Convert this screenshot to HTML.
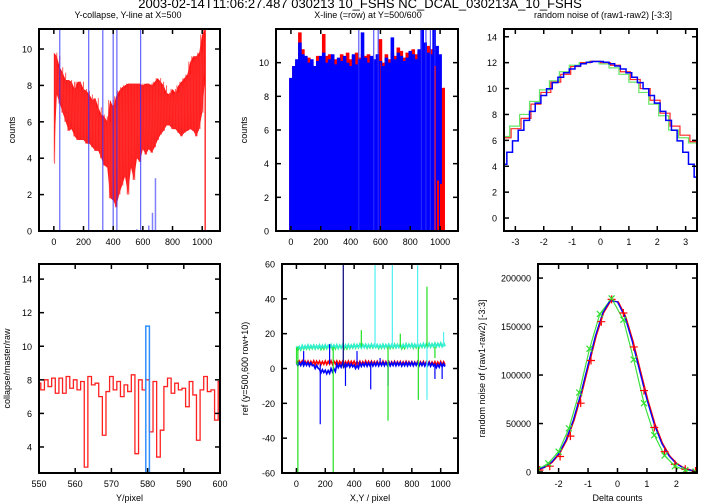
<!DOCTYPE html>
<html><head><meta charset="utf-8">
<style>
html,body{margin:0;padding:0;background:#fff;}
svg{display:block;font-family:"Liberation Sans",sans-serif;}
</style></head>
<body>
<svg id="fig" width="720" height="504" viewBox="0 0 720 504">
<text x="360" y="8" font-size="13" text-anchor="middle">2003-02-14T11:06:27.487 030213 10_FSHS NC_DCAL_030213A_10_FSHS</text>
<text x="128" y="18" font-size="9" text-anchor="middle">Y-collapse, Y-line at X=500</text>
<text x="368" y="18" font-size="9" text-anchor="middle">X-line (=row) at Y=500/600</text>
<text x="603" y="18" font-size="9" text-anchor="middle">random noise of (raw1-raw2) [-3:3]</text>
</svg>
<script>
// ---------- Panel 1 data ----------
const p1X = [0,20,40,60,80,100,120,140,160,180,200,220,240,260,280,300,320,340,360,380,400,420,440,460,480,500,520,540,560,580,600,620,640,660,680,700,720,740,760,780,800,820,840,860,880,900,920,940,960,980,1000,1020];
const p1Hi = [9.8,9.6,9.0,8.7,8.3,8.3,8.2,7.8,8.2,8.2,7.8,7.7,7.5,7.2,7.3,6.8,6.4,6.3,6.0,7.2,6.8,7.4,7.7,7.9,8.0,8.1,8.1,8.1,8.1,8.1,8.0,8.1,8.1,8.0,8.2,8.4,8.2,8.0,7.6,7.5,7.8,7.6,8.0,8.2,8.4,8.6,9.3,9.6,9.6,9.8,10.8,11.1];
const p1Lo = [3.7,7.5,7.0,6.5,6.0,5.5,5.6,5.2,5.0,5.0,5.0,4.8,4.8,4.6,4.4,4.4,4.0,3.6,3.5,1.8,1.7,1.3,2.0,2.5,3.0,2.0,3.5,2.8,4.0,3.8,4.5,4.2,4.5,4.3,4.6,5.0,5.3,5.5,5.8,5.8,5.6,5.6,5.4,5.2,5.4,5.5,5.6,5.5,5.2,5.6,6.5,8.5];
const p1BlueLineX = [40,235,330,400,425,585];
const p1BlueBarX = [560,640,665,685];
const p1BlueBarY = [0.1,0.3,1.0,2.9];
// ---------- Panel 2 data ----------
const p2X = [0,20,40,60,80,100,120,140,160,180,200,220,240,260,280,300,320,340,360,380,400,420,440,460,480,500,520,540,560,580,600,620,640,660,680,700,720,740,760,780,800,820,840,860,880,900,920,940,960,980,1000,1020];
const p2Blue = [9.1,9.8,10.2,11.2,10.5,10.4,10.0,10.2,9.8,10.1,10.4,10.6,10.0,10.2,10.5,9.9,10.3,10.1,10.4,10.0,9.8,10.5,9.9,10.2,11.8,10.3,10.0,10.4,10.2,10.5,10.1,9.8,10.3,10.0,11.5,10.2,10.6,10.4,10.1,10.3,10.7,10.5,10.2,10.8,12,11.2,10.6,10.5,12,11,10.5,9.6];
const p2Red = [9.0,9.8,10.0,11.8,10.8,10.2,10.3,10.0,9.5,10.4,10.2,11.7,10.4,10.5,10.3,10.2,10.1,10.5,10.0,10.6,10.2,10.4,10.6,10.3,10.5,10.4,10.5,10.3,10.1,10.2,11.4,10.0,10.5,10.2,10.6,10.4,10.9,10.7,10.3,10.6,10.4,10.8,10.5,10.6,10.7,10.9,11.0,10.8,9.8,3.0,2.8,8.5];
const p2SpikeX = [455,555,585,875,905,935,965];
// ---------- Panel 3 data ----------
const p3RedEdges = [-3.4,-3.15,-2.8,-2.45,-2.1,-1.75,-1.4,-1.05,-0.7,-0.35,0,0.35,0.7,1.05,1.4,1.75,2.1,2.45,2.8,3.15,3.4];
const p3Red = [6.2,6.9,7.7,8.8,9.7,10.5,11.1,11.7,12.0,12.1,12.0,11.8,11.3,10.7,10.0,9.1,8.1,7.1,6.4,5.9];
const p3GreenEdges = [-3.4,-3.2,-2.85,-2.5,-2.15,-1.8,-1.45,-1.1,-0.75,-0.4,-0.05,0.3,0.65,1.0,1.35,1.7,2.05,2.4,2.75,3.1,3.4];
const p3Green = [6.3,7.1,8.0,9.0,9.9,10.6,11.3,11.8,12.0,12.1,11.9,11.6,11.1,10.5,9.7,8.8,7.9,6.8,6.2,5.8];
const p3BlueX = [-3.4,-3.2,-3.0,-2.8,-2.6,-2.4,-2.2,-2.0,-1.8,-1.6,-1.4,-1.2,-1.0,-0.8,-0.6,-0.4,-0.2,0,0.2,0.4,0.6,0.8,1.0,1.2,1.4,1.6,1.8,2.0,2.2,2.4,2.6,2.8,3.0,3.2,3.4];
const p3Blue = [4.15,5.08,5.96,6.78,7.54,8.24,8.88,9.46,9.99,10.46,10.87,11.22,11.51,11.74,11.92,12.03,12.09,12.09,12.03,11.92,11.74,11.51,11.22,10.87,10.46,9.99,9.46,8.88,8.24,7.54,6.78,5.96,5.08,4.15,3.16];
// ---------- Panel 4 data ----------
const p4X = [550,551,552,553,554,555,556,557,558,559,560,561,562,563,564,565,566,567,568,569,570,571,572,573,574,575,576,577,578,579,580,581,582,583,584,585,586,587,588,589,590,591,592,593,594,595,596,597,598,599,600];
const p4Red = [7.8,7.4,8.0,7.6,8.1,7.2,8.1,7.2,8.2,7.5,8.0,7.4,7.9,2.8,8.2,7.7,7.8,7.0,4.7,7.3,8.2,7.4,7.9,7.0,7.7,7.3,8.3,3.6,8.0,7.4,8.0,4.9,7.9,3.4,5.0,7.6,8.1,7.2,7.8,7.4,7.5,6.4,7.9,7.1,4.4,7.4,8.2,7.3,7.4,5.6,7.9];
const p4BlueX = [580];
const p4Blue = [11.2];
// ---------- Panel 5 data ----------
const p5X = [0,40,80,120,160,200,240,280,320,360,400,440,480,520,560,600,640,680,720,760,800,840,880,920,960,1000,1020];
const p5Red = [3.5,3.4,3.3,3.4,3.2,3.3,3.4,3.3,3.2,3.3,3.2,3.1,3.3,3.2,3.1,3.2,3.0,3.1,3.0,3.1,2.9,3.0,3.0,2.9,2.9,3.0,3.0];
const p5Blue = [2.5,2.6,2.4,1.0,-1.5,-2.0,-1.0,1.5,2.0,1.8,1.0,2.2,2.3,2.4,2.5,2.6,2.5,2.6,2.4,2.5,2.6,2.5,2.4,2.3,1.5,2.0,1.0];
const p5Green = [11.5,12.0,12.2,12.3,12.0,12.4,12.1,12.5,12.2,12.6,12.8,13.0,12.7,12.9,12.5,12.8,12.6,13.0,12.4,13.1,12.8,13.0,13.2,13.3,13.5,13.6,14.0];
const p5Cyan = [11.8,12.3,12.5,12.4,12.6,12.5,12.7,12.6,12.8,12.7,12.9,12.8,12.9,13.0,12.8,12.9,13.0,12.9,13.1,13.0,13.2,13.1,13.3,13.4,13.5,13.6,13.8];
const p5BlueSpikeX = [50,165,230,325,340,420,515,580,635,960,1010];
const p5BlueSpikeY = [10,-32,14,60,-10,10,-12,6,-10,-6,-6];
const p5GreenSpikeX = [10,255,450,635,720,845,905,960];
const p5GreenSpikeY = [-60,-60,22,-30,20,-18,47,6];
const p5CyanSpikeX = [545,665,840,905,1020];
const p5CyanSpikeY = [60,60,60,-18,21];
// ---------- Panel 6 data ----------
const p6CurveX = [-2.75,-2.5,-2.25,-2.0,-1.75,-1.5,-1.25,-1.0,-0.75,-0.5,-0.25,0,0.25,0.5,0.75,1.0,1.25,1.5,1.75,2.0,2.25,2.5,2.75];
const p6Blue = [2080,4720,9800,18700,33000,53600,80300,110700,140400,164200,176800,175400,160200,134800,104500,74600,49000,29700,16500,8500,4000,1750,710];
const p6RedX = [-2.65,-2.3,-1.95,-1.6,-1.25,-0.9,-0.55,-0.2,0.2,0.55,0.9,1.25,1.6,1.95,2.3,2.65];
const p6Red = [2000,6000,16000,37000,71000,115000,155000,178000,164000,129000,84000,46000,21000,8000,3000,1000];
const p6GreenX = [-2.7,-2.35,-2.0,-1.65,-1.3,-0.95,-0.6,-0.2,0.2,0.55,0.9,1.25,1.6,1.95,2.3,2.65];
const p6Green = [2500,9000,21000,45000,82000,127000,163000,179000,157000,116000,71000,38000,17000,6000,2000,500];

const NS = "http://www.w3.org/2000/svg";
const svg = document.getElementById('fig');
function mk(tag, attrs, parent) {
  const e = document.createElementNS(NS, tag);
  for (const k in attrs) e.setAttribute(k, attrs[k]);
  (parent || svg).appendChild(e);
  return e;
}
function panel(name, box, xd, yd, xt, yt, ylab, ylx, xlab) {
  const [l, t, r, b] = box;
  const g = mk('g', {});
  
  
  const sx = v => l + (v - xd[0]) / (xd[1] - xd[0]) * (r - l);
  const sy = v => b - (v - yd[0]) / (yd[1] - yd[0]) * (b - t);
  const clipId = name + '-clip';
  const cp = mk('clipPath', {id: clipId}, g);
  mk('rect', {x: l, y: t, width: r - l, height: b - t}, cp);
  const plot = mk('g', {'clip-path': 'url(#' + clipId + ')'}, g);
  
  
  const ax = mk('g', {stroke: '#000', 'stroke-width': 1.5}, g);
  
  
  xt.forEach(v => {
    const x = sx(v);
    mk('line', {x1: x, y1: b, x2: x, y2: b - 5}, ax);
    mk('line', {x1: x, y1: t, x2: x, y2: t + 5}, ax);
    const tx = mk('text', {x: x, y: b + 14, 'font-size': 9, 'text-anchor': 'middle'}, g);
    tx.textContent = String(v);
    
    
  });
  yt.forEach(v => {
    const y = sy(v);
    mk('line', {x1: l, y1: y, x2: l + 5, y2: y}, ax);
    mk('line', {x1: r, y1: y, x2: r - 5, y2: y}, ax);
    const tx = mk('text', {x: l - 7, y: y + 3.5, 'font-size': 9, 'text-anchor': 'end'}, g);
    tx.textContent = String(v);
    
    
  });
  if (ylab) {
    const cy = (t + b) / 2;
    const yl = mk('text', {x: ylx, y: cy, 'font-size': 9, 'text-anchor': 'middle', transform: 'rotate(-90 ' + ylx + ' ' + cy + ')'}, g);
    yl.textContent = ylab;
    
    
  }
  if (xlab) {
    const xl = mk('text', {x: (l + r) / 2, y: 501, 'font-size': 9, 'text-anchor': 'middle'}, g);
    xl.textContent = xlab;
    
    
  }
  const fr = mk('rect', {x: l, y: t, width: r - l, height: b - t, fill: 'none', stroke: '#000', 'stroke-width': 2}, g);
  
  
  return {sx, sy, plot};
}
function vline(p, x, y1, y2, color, w, op) {
  const e = mk('line', {x1: p.sx(x), x2: p.sx(x), y1: p.sy(y1), y2: p.sy(y2), stroke: color, 'stroke-width': w || 1, 'stroke-opacity': op || 1}, p.plot);
  return e;
}
function poly(p, pts, color, w, op) {
  const e = mk('polyline', {points: pts.map(q => p.sx(q[0]).toFixed(2) + ',' + p.sy(q[1]).toFixed(2)).join(' '), fill: 'none', stroke: color, 'stroke-width': w || 1, 'stroke-opacity': op || 1}, p.plot);
  return e;
}

// ---- Panel 1 ----
const P1 = panel('panel1', [39, 29, 220, 231], [-100, 1120], [0, 11.1], [0,200,400,600,800,1000], [0,2,4,6,8,10], 'counts', 15, null);
{
  const top = p1X.map((x, i) => P1.sx(x).toFixed(2) + ',' + P1.sy(p1Hi[i]).toFixed(2));
  const bot = p1X.map((x, i) => P1.sx(x).toFixed(2) + ',' + P1.sy(p1Lo[i]).toFixed(2)).reverse();
  const e = mk('polygon', {points: top.concat(bot).join(' '), fill: '#ff0000', 'fill-opacity': 0.92}, P1.plot);
  
  
}
p1X.forEach((x, i) => {
  if (i > 0) {
    const z = poly(P1, [[p1X[i-1] + 5, p1Lo[i-1]], [p1X[i-1] + 10, p1Hi[i]], [x - 5, p1Lo[i]], [x, p1Hi[i-1]]], '#ff3030', 1, 0.8);
    
    
  }
});
{ const e = vline(P1, 1020, 0, 11.1, '#ff0000', 1.2);   }
p1BlueLineX.forEach(x => { const e = vline(P1, x, 0, 11.1, '#3030ff', 1.2, 0.75);   });
p1BlueBarX.forEach((x, i) => { const e = vline(P1, x, 0, p1BlueBarY[i], '#8080ff', 1.5);   });

// ---- Panel 2 ----
const P2 = panel('panel2', [276, 29, 458, 231], [-100, 1120], [0, 12], [0,200,400,600,800,1000], [0,2,4,6,8,10], 'counts', 247, null);
p2X.forEach((x, i) => { const e = vline(P2, x, 0, p2Red[i], '#ff0000', 3.6);   });
p2X.forEach((x, i) => { if (x <= 1000) { const e = vline(P2, x, 0, p2Blue[i], '#0000ff', 3.6);   } });
p2X.forEach((x, i) => { if (x >= 960) { const e = vline(P2, x + 6, 0, p2Red[i], '#ff0000', 2);   } });
p2SpikeX.forEach(x => { const e = vline(P2, x, 0, 12, '#3030ff', 1.2, 0.8);   });
{ const e = vline(P2, 600, 0, 10, '#a00060', 0.8);   }

// ---- Panel 3 ----
const P3 = panel('panel3', [504, 29, 697, 231], [-3.4, 3.4], [-1, 14.6], [-3,-2,-1,0,1,2,3], [0,2,4,6,8,10,12,14], null, 0, null);
function steps(edges, vals) { const pts = []; vals.forEach((v, i) => { pts.push([edges[i], v]); pts.push([edges[i+1], v]); }); return pts; }
{ const e = poly(P3, steps(p3GreenEdges, p3Green), '#40e040', 1.2, 0.8);   }
{ const e = poly(P3, steps(p3RedEdges, p3Red), '#ff0000', 1.2, 0.85);   }
{ const pts = []; p3BlueX.forEach((x, i) => { pts.push([x - 0.1, p3Blue[i]]); pts.push([x + 0.1, p3Blue[i]]); });
  const e = poly(P3, pts, '#0000ff', 1.5);   }

// ---- Panel 4 ----
const P4 = panel('panel4', [39, 264, 220, 473], [550, 600], [2.45, 14.9], [550,560,570,580,590,600], [4,6,8,10,12,14], 'collapse/master/raw', 10, 'Y/pixel');
{ const pts = []; p4X.forEach((x, i) => { pts.push([x - 0.5, p4Red[i]]); pts.push([x + 0.5, p4Red[i]]); });
  const e = poly(P4, pts, '#ff2020', 1.3);   }
p4BlueX.forEach((x, i) => {
  const e = poly(P4, [[x - 0.5, 2.45], [x - 0.5, p4Blue[i]], [x + 0.5, p4Blue[i]], [x + 0.5, 2.45]], '#3090ff', 1.5);
    });

// ---- Panel 5 ----
const P5 = panel('panel5', [282, 264, 458, 473], [-100, 1120], [-60, 60], [0,200,400,600,800,1000], [-60,-40,-20,0,20,40,60], 'ref (y=500,600 row+10)', 248, 'X,Y / pixel');
function series5(xs, ys, color, name) {
  const pts = []; xs.forEach((x, i) => { pts.push([x, ys[i] + 1]); pts.push([x + 10, ys[i] - 1]); pts.push([x + 20, ys[i] + 0.8]); pts.push([x + 30, ys[i] - 0.8]); });
  pts.length = pts.length - 3;
  const e = poly(P5, pts, color, 1.6);  
}
series5(p5X, p5Red, '#ff0000', 'ref-red');
series5(p5X, p5Blue, '#0000ff', 'ref-blue');
series5(p5X, p5Green, '#20e020', 'ref-green');
series5(p5X, p5Cyan, '#30f0d0', 'ref-cyan');
{ const e = vline(P5, 0, p5Blue[0], p5Cyan[0], '#20e020', 1);   }
p5BlueSpikeX.forEach((x, i) => { const e = vline(P5, x, 2.5, p5BlueSpikeY[i], '#0000ff', 1.2);   });
p5GreenSpikeX.forEach((x, i) => { const e = vline(P5, x, 12.5, p5GreenSpikeY[i], '#20e020', 1.2);   });
p5CyanSpikeX.forEach((x, i) => { const e = vline(P5, x, 12.5, p5CyanSpikeY[i], '#50f0f0', 1.2);   });
{ const e = vline(P5, 325, 0, 60, '#202060', 1);   }

// ---- Panel 6 ----
const P6 = panel('panel6', [538, 264, 697, 473], [-2.7, 2.7], [-1000, 214500], [-2,-1,0,1,2], [0,50000,100000,150000,200000], 'random noise of (raw1-raw2) [-3:3]', 485, 'Delta counts');
{ const e = poly(P6, p6GreenX.map((x, i) => [x, p6Green[i]]), '#40e040', 1.2);   }
{ const e = poly(P6, p6CurveX.map((x, i) => [x + 0.03, p6Blue[i]]), '#ff0000', 1.3);   }
{ const e = poly(P6, p6CurveX.map((x, i) => [x, p6Blue[i]]), '#0000ff', 1.3);   }
p6RedX.forEach((x, i) => {
  const cx = P6.sx(x), cy = P6.sy(p6Red[i]);
  const g = mk('path', {d: `M${cx-4},${cy}H${cx+4}M${cx},${cy-4}V${cy+4}`, stroke: '#ff0000', 'stroke-width': 1.2}, P6.plot);
   
});
p6GreenX.forEach((x, i) => {
  const cx = P6.sx(x), cy = P6.sy(p6Green[i]);
  const g = mk('path', {d: `M${cx-3},${cy-3}L${cx+3},${cy+3}M${cx-3},${cy+3}L${cx+3},${cy-3}`, stroke: '#30e030', 'stroke-width': 1.2}, P6.plot);
   
});
</script>
</body></html>
